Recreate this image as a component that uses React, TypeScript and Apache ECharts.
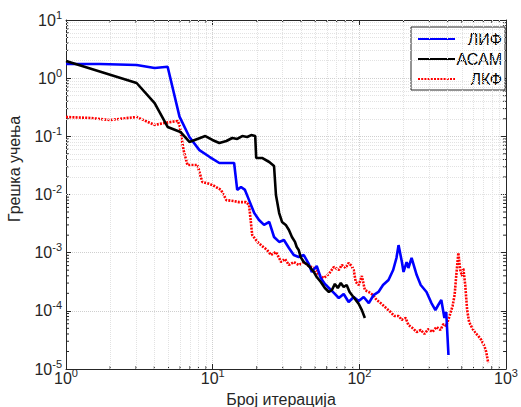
import React, { useEffect, useRef } from 'react';
import * as echarts from 'echarts';

const X_MIN = 1;
const X_MAX = 1000;
const Y_MIN = 1e-5;
const Y_MAX = 10;

const seriesNames = ['ЛИФ', 'АСАМ', 'ЛКФ'];

const lifX = [1, 1.7, 3.03, 4.02, 4.93, 5.94, 6.94, 8.12, 9.5, 11.1, 14.0, 14.7, 15.6, 16.6, 17.7, 19.2, 20.7, 22.4, 24.3, 26.2, 28.4, 30.6, 33.1, 35.7, 38.6, 41.8, 45.2, 47.4, 51.2, 54.6, 58.2, 62, 67, 72.4, 78.2, 84.5, 91.5, 99.1, 107, 116, 125, 135, 145, 158, 170, 179, 185, 195, 200, 210, 216, 227, 246, 262, 287, 310, 330, 345, 362, 380, 391, 405];
const lifY = [1.75, 1.75, 1.68, 1.5, 1.57, 0.218, 0.0975, 0.058, 0.0445, 0.0348, 0.0348, 0.012, 0.0135, 0.012, 0.008, 0.0048, 0.00365, 0.003, 0.00337, 0.00186, 0.00153, 0.00165, 0.0012, 0.00091, 0.00084, 0.00091, 0.00064, 0.000466, 0.00059, 0.000367, 0.00029, 0.000247, 0.000203, 0.000166, 0.000195, 0.000142, 0.000173, 0.000148, 0.000173, 0.000136, 0.000187, 0.000211, 0.000278, 0.000339, 0.000504, 0.00081, 0.00135, 0.00069, 0.000466, 0.00069, 0.000545, 0.00081, 0.000413, 0.000278, 0.000211, 0.000136, 0.000103, 0.000126, 0.000154, 0.0000754, 0.0000955, 0.0000174];

const acamX = [1, 3.03, 4.02, 4.93, 6.03, 6.94, 7.87, 8.91, 9.95, 11.1, 12.4, 13.6, 14.7, 15.9, 17.2, 18.3, 19.5, 19.8, 21.7, 24.3, 26.2, 27.0, 28.4, 29.7, 31.5, 33.1, 34.7, 36.4, 37.4, 38.6, 39.8, 41.8, 44.5, 46.6, 48.9, 51.2, 54.6, 58.2, 62, 65, 68.1, 71.3, 74.7, 78.2, 81.9, 85.8, 90, 94.5, 99.1, 104, 109];
const acamY = [1.97, 0.826, 0.374, 0.145, 0.119, 0.08, 0.09, 0.101, 0.0866, 0.0769, 0.0832, 0.0937, 0.09, 0.101, 0.0975, 0.105, 0.101, 0.0425, 0.0425, 0.0362, 0.0309, 0.0098, 0.0048, 0.00337, 0.003, 0.00245, 0.00186, 0.00153, 0.00125, 0.00111, 0.00084, 0.00069, 0.000614, 0.000545, 0.000466, 0.000382, 0.000313, 0.000247, 0.000211, 0.000228, 0.00029, 0.000247, 0.000301, 0.000257, 0.000278, 0.000211, 0.00018, 0.000154, 0.000131, 0.000103, 0.0000754];

const lkfX = [1, 1.455, 1.99, 3.03, 4.02, 4.70, 5.76, 5.94, 6.33, 6.73, 7.87, 8.5, 9.5, 10.26, 11.4, 12.4, 14.0, 15.1, 16.9, 17.7, 18.6, 20.2, 21.7, 23.5, 25.0, 27.0, 29.3, 31.1, 33.1, 35.7, 38.6, 41.8, 45.2, 48.9, 52.9, 57.3, 62, 67, 72.4, 75.9, 80.7, 84.5, 88.6, 91.5, 94.5, 99.1, 104, 109, 116, 124, 131, 142, 152, 163, 173, 185, 195, 207, 216, 230, 246, 262, 278, 295, 315, 336, 357, 374, 391, 412, 432, 446, 458, 473, 487, 502, 511, 527, 543, 560, 587, 618, 647, 678, 711, 733, 756];
const lkfY = [0.215, 0.207, 0.191, 0.215, 0.157, 0.17, 0.184, 0.157, 0.058, 0.0322, 0.0322, 0.0164, 0.0152, 0.014, 0.012, 0.008, 0.0077, 0.0074, 0.0074, 0.0066, 0.00201, 0.00153, 0.0013, 0.00111, 0.00091, 0.00103, 0.00069, 0.00078, 0.000614, 0.00069, 0.000614, 0.00069, 0.00059, 0.000545, 0.000413, 0.000367, 0.00043, 0.000568, 0.000504, 0.000614, 0.000545, 0.000665, 0.00059, 0.000504, 0.000313, 0.000278, 0.000397, 0.000228, 0.000211, 0.000187, 0.000154, 0.000131, 0.000112, 0.0000955, 0.0000816, 0.0000816, 0.0000697, 0.0000754, 0.0000571, 0.0000507, 0.0000433, 0.0000469, 0.00004, 0.0000487, 0.0000433, 0.0000528, 0.0000469, 0.0000594, 0.0000548, 0.0000816, 0.000121, 0.000187, 0.000413, 0.00099, 0.000504, 0.000397, 0.000545, 0.000278, 0.000103, 0.0000643, 0.0000507, 0.0000416, 0.000037, 0.0000316, 0.0000249, 0.0000196, 0.0000127];

const xMinorTicks = [2, 3, 4, 5, 6, 7, 8, 9, 20, 30, 40, 50, 60, 70, 80, 90, 200, 300, 400, 500, 600, 700, 800, 900];
const yMinorTicks = [
  2e-5, 3e-5, 4e-5, 5e-5, 6e-5, 7e-5, 8e-5, 9e-5,
  2e-4, 3e-4, 4e-4, 5e-4, 6e-4, 7e-4, 8e-4, 9e-4,
  2e-3, 3e-3, 4e-3, 5e-3, 6e-3, 7e-3, 8e-3, 9e-3,
  0.02, 0.03, 0.04, 0.05, 0.06, 0.07, 0.08, 0.09,
  0.2, 0.3, 0.4, 0.5, 0.6, 0.7, 0.8, 0.9,
  2, 3, 4, 5, 6, 7, 8, 9,
];

const FONT = '"Liberation Sans", Arial, Helvetica, sans-serif';
const AXIS_COLOR = '#262626';

const zip = (xs: number[], ys: number[]) => xs.map((x, i) => [x, ys[i]]);

const powLabel = (v: number) => {
  const e = Math.round(Math.log10(v));
  return `{b|10}{e|${e}}`;
};

const labelRich = {
  b: { fontSize: 16, lineHeight: 16, fontFamily: FONT, color: AXIS_COLOR, verticalAlign: 'bottom' },
  e: { fontSize: 11, lineHeight: 11, fontFamily: FONT, color: AXIS_COLOR, verticalAlign: 'bottom', padding: [0, 0, 8, 0] },
};

export default function App() {
  const ref = useRef<HTMLDivElement>(null);

  useEffect(() => {
    if (!ref.current) return;
    const chart = echarts.init(ref.current, undefined, { renderer: 'svg' });

    const tickStyle = { color: AXIS_COLOR, width: 1 };
    const baseX = {
      type: 'log',
      logBase: 10,
      min: X_MIN,
      max: X_MAX,
      splitNumber: 3,
      axisLine: { show: true, lineStyle: tickStyle },
      axisTick: { show: true, inside: true, length: 5, lineStyle: tickStyle },
    };
    const baseY = {
      type: 'log',
      logBase: 10,
      min: Y_MIN,
      max: Y_MAX,
      splitNumber: 6,
      axisLine: { show: true, lineStyle: tickStyle },
      axisTick: { show: true, inside: true, length: 5, lineStyle: tickStyle },
    };

    const minorTickRender = (dir: 'x' | 'y') => (params: any, api: any) => {
      const v = api.value(dir === 'x' ? 0 : 1);
      const len = 3;
      const st = { stroke: AXIS_COLOR, lineWidth: 1 };
      if (dir === 'x') {
        const b = api.coord([v, Y_MIN]);
        const t = api.coord([v, Y_MAX]);
        return {
          type: 'group',
          children: [
            { type: 'line', shape: { x1: b[0], y1: b[1], x2: b[0], y2: b[1] - len }, style: st },
            { type: 'line', shape: { x1: t[0], y1: t[1], x2: t[0], y2: t[1] + len }, style: st },
          ],
        };
      }
      const l = api.coord([X_MIN, v]);
      const r = api.coord([X_MAX, v]);
      return {
        type: 'group',
        children: [
          { type: 'line', shape: { x1: l[0], y1: l[1], x2: l[0] + len, y2: l[1] }, style: st },
          { type: 'line', shape: { x1: r[0], y1: r[1], x2: r[0] - len, y2: r[1] }, style: st },
        ],
      };
    };

    const option: any = {
      animation: false,
      backgroundColor: '#ffffff',
      grid: { left: 66, top: 20, width: 442, height: 349, containLabel: false },
      xAxis: [
        {
          ...baseX,
          position: 'bottom',
          axisLabel: { show: true, margin: 1, formatter: powLabel, rich: labelRich },
          splitLine: { show: true, lineStyle: { color: '#cfcfcf', type: 'dotted', width: 1 } },
        },
        {
          ...baseX,
          position: 'top',
          axisLabel: { show: false },
          splitLine: { show: false },
        },
      ],
      yAxis: [
        {
          ...baseY,
          position: 'left',
          axisLabel: { show: true, margin: 4, formatter: powLabel, rich: labelRich },
          splitLine: { show: true, lineStyle: { color: '#cfcfcf', type: 'dotted', width: 1 } },
        },
        {
          ...baseY,
          position: 'right',
          axisLabel: { show: false },
          splitLine: { show: false },
        },
      ],
      legend: {
        data: seriesNames,
        orient: 'vertical',
        left: 411,
        top: 27,
        padding: [4, 3, 3, 6],
        itemGap: 4,
        itemWidth: 37,
        itemHeight: 16,
        borderColor: AXIS_COLOR,
        borderWidth: 1,
        borderRadius: 0,
        backgroundColor: '#ffffff',
        itemStyle: { opacity: 0 },
        formatter: (name: string) => `{r|${name}}`,
        textStyle: {
          fontSize: 16,
          fontFamily: FONT,
          color: '#000',
          rich: { r: { width: 42, align: 'right', fontSize: 16, fontFamily: FONT, color: '#000' } },
        },
      },
      graphic: [
        {
          type: 'text',
          x: 14,
          y: 169,
          rotation: Math.PI / 2,
          style: {
            text: 'Грешка учења',
            font: `16px ${FONT}`,
            fill: AXIS_COLOR,
            align: 'center',
            verticalAlign: 'middle',
          },
        },
        {
          type: 'text',
          x: 281,
          y: 399,
          style: {
            text: 'Број итерација',
            font: `16px ${FONT}`,
            fill: AXIS_COLOR,
            align: 'center',
            verticalAlign: 'middle',
          },
        },
      ],
      series: [
        {
          name: 'minorGrid',
          type: 'line',
          data: [[X_MIN, Y_MIN]],
          symbol: 'none',
          lineStyle: { opacity: 0 },
          silent: true,
          z: 1,
          markLine: {
            silent: true,
            symbol: ['none', 'none'],
            label: { show: false },
            emphasis: { disabled: true },
            lineStyle: { color: '#e2e2e2', type: 'dotted', width: 1 },
            data: [
              ...xMinorTicks.map((v) => ({ xAxis: v })),
              ...yMinorTicks.map((v) => ({ yAxis: v })),
            ],
          },
        },
        {
          name: 'xMinorTicks',
          type: 'custom',
          silent: true,
          z: 3,
          data: xMinorTicks.map((v) => [v, Y_MAX]),
          renderItem: minorTickRender('x'),
        },
        {
          name: 'yMinorTicks',
          type: 'custom',
          silent: true,
          z: 3,
          data: yMinorTicks.map((v) => [X_MIN, v]),
          renderItem: minorTickRender('y'),
        },
        {
          name: 'ЛИФ',
          type: 'line',
          data: zip(lifX, lifY),
          symbol: 'none',
          showSymbol: false,
          z: 5,
          lineStyle: { color: '#0000ff', width: 2.6 },
          itemStyle: { color: '#0000ff' },
        },
        {
          name: 'АСАМ',
          type: 'line',
          data: zip(acamX, acamY),
          symbol: 'none',
          showSymbol: false,
          z: 6,
          lineStyle: { color: '#000000', width: 2.6 },
          itemStyle: { color: '#000000' },
        },
        {
          name: 'ЛКФ',
          type: 'line',
          data: zip(lkfX, lkfY),
          symbol: 'none',
          showSymbol: false,
          z: 4,
          lineStyle: { color: '#ff0000', width: 2.6, type: [2, 1.2] },
          itemStyle: { color: '#ff0000' },
        },
      ],
    };

    chart.setOption(option);
    return () => chart.dispose();
  }, []);

  return (
    <div
      ref={ref}
      style={{ position: 'fixed', left: 0, top: 0, width: 521, height: 407, background: '#fff' }}
    />
  );
}
